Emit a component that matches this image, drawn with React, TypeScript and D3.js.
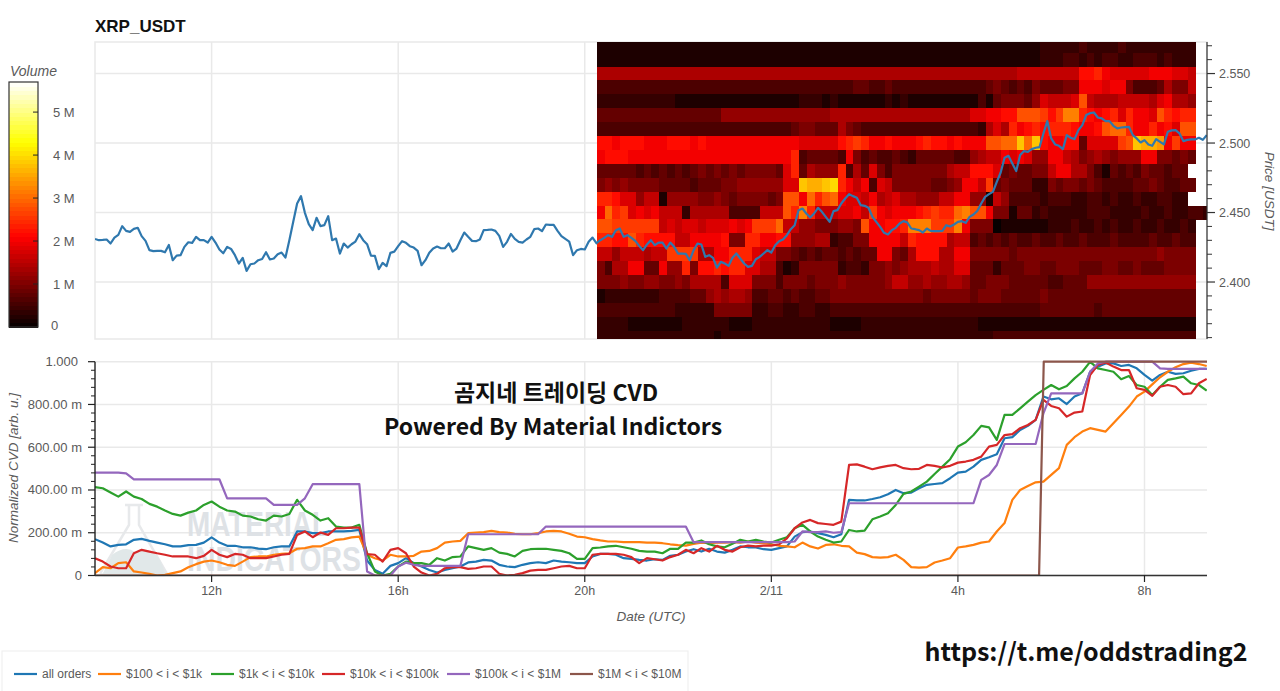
import React from "react";
import * as d3 from "d3";

const priceValues = [
2.4310,2.4301,2.4303,2.4306,2.4277,2.4320,2.4339,2.4402,2.4368,2.4361,2.4382,2.4390,2.4330,2.4296,2.4229,2.4222,2.4224,2.4224,2.4214,2.4267,
2.4157,2.4190,2.4193,2.4253,2.4286,2.4282,2.4325,2.4301,2.4301,2.4284,2.4325,2.4284,2.4234,2.4207,2.4253,2.4238,2.4193,2.4133,2.4174,2.4080,
2.4128,2.4133,2.4157,2.4166,2.4214,2.4162,2.4169,2.4200,2.4212,2.4176,2.4301,2.4433,2.4565,2.4618,2.4498,2.4416,2.4373,2.4462,2.4402,2.4409,
2.4474,2.4301,2.4313,2.4205,2.4277,2.4248,2.4272,2.4291,2.4344,2.4301,2.4272,2.4190,2.4188,2.4092,2.4138,2.4114,2.4210,2.4219,2.4258,2.4294,
2.4282,2.4258,2.4248,2.4224,2.4121,2.4157,2.4210,2.4241,2.4255,2.4243,2.4243,2.4277,2.4219,2.4241,2.4301,2.4356,2.4325,2.4296,2.4294,2.4306,
2.4373,2.4375,2.4378,2.4368,2.4332,2.4253,2.4289,2.4346,2.4310,2.4289,2.4284,2.4306,2.4325,2.4380,2.4385,2.4366,2.4414,2.4411,2.4411,2.4368,
2.4330,2.4310,2.4291,2.4193,2.4229,2.4238,2.4234,2.4289,2.4320,2.4279,2.4301,2.4318,2.4337,2.4325,2.4373,2.4385,2.4325,2.4337,2.4318,2.4296,
2.4260,2.4229,2.4270,2.4301,2.4265,2.4284,2.4284,2.4241,2.4284,2.4253,2.4205,2.4205,2.4203,2.4157,2.4229,2.4277,2.4270,2.4181,2.4193,2.4174,
2.4104,2.4145,2.4133,2.4116,2.4174,2.4205,2.4169,2.4133,2.4109,2.4116,2.4164,2.4181,2.4205,2.4229,2.4212,2.4265,2.4294,2.4306,2.4337,2.4380,
2.4409,2.4517,2.4529,2.4493,2.4464,2.4493,2.4534,2.4505,2.4469,2.4433,2.4510,2.4517,2.4565,2.4601,2.4632,2.4618,2.4606,2.4553,2.4548,2.4534,
2.4469,2.4433,2.4397,2.4354,2.4342,2.4373,2.4390,2.4421,2.4438,2.4428,2.4385,2.4380,2.4373,2.4356,2.4385,2.4368,2.4366,2.4366,2.4368,2.4409,
2.4399,2.4414,2.4433,2.4438,2.4426,2.4469,2.4486,2.4512,2.4565,2.4613,2.4632,2.4649,2.4721,2.4788,2.4894,2.4908,2.4853,2.4798,2.4913,2.4942,
2.4937,2.4956,2.4966,2.4971,2.5069,2.5158,2.5033,2.4990,2.4980,2.4956,2.5057,2.5038,2.5028,2.5093,2.5129,2.5201,2.5215,2.5220,2.5184,2.5177,
2.5158,2.5158,2.5124,2.5105,2.5112,2.5115,2.5117,2.5057,2.5033,2.5004,2.5021,2.4990,2.4980,2.5028,2.5009,2.4990,2.5081,2.5091,2.5093,2.5069,
2.5014,2.5023,2.5026,2.5026,2.5038,2.5023,2.5057];

// Volume levels per 10-minute column, one row per price bin, base-36 digits in 0.2 M units.
const heatPrices = [2.57,2.56,2.55,2.54,2.53,2.52,2.51,2.50,2.49,2.48,2.47,2.46,2.45,2.44,2.43,2.42,2.41,2.40,2.39,2.38,2.37,2.36];
const heatRows = [
"1111111111 1111111111 1111111111 1111111111 1111111111 1111111222 2232222322 2222222",
"1111111111 1111111111 1111111111 1111111111 1111111111 1111111222 3323233223 3323222",
"7777777777 7777777777 7777777777 7777777777 7777777777 7777888888 88bbca9999 9aaa998",
"3333333333 3333333333 3333333333 3334433433 3333333333 4543435444 55aaa9aa53 3347558",
"2222222222 1111111111 1111112221 2111111212 1111111113 1455546988 89e8777888 879a776",
"4444444444 4444446666 6666666666 7777777777 7777777799 aabbeeedbd ggcbabc9ca a9ecbcc",
"3333333333 3333333333 3333345544 4754333333 3333333332 797cabcbcc cbaabeffca acab9ee",
"bbabbbaaab bbabaaaaaa aaaaaa9999 9bcdcaabaa abcbbabaaa eeffjfjbaa bb49999dej iihadaa",
"abbbaaaaaa aaaaaaaaaa aaaaac3444 43a5343343 2444443367 88a9a966aa 8756765666 aa55454",
"4444434343 4345454545 55549c4766 6c37495355 555557 88bb b9454455 8aa77531434 3 5443 44",
"5656555544 4434445566 66669 9jiij kca8a39855 5554456aa8 d454442254 5545433334 4543344",
"ccb9968816 6665565455 5545eeafce fa99 8a7 89 7766688aa6 6186333323 3322332322 3223322",
"af cd9a9a88 8277777333 388 8ecg c888 99a8da9aaab cdccfgeea5 5144232222 2333222232 2322332",
"eedddddd89 8998999a9a ddd f886655 5665eaabbc gggdddga55 5011111122 2322323223 2232232",
"ccbbecbbbb 88aaaab55c caabb66677 2335 5aaaa8 cbbbb78834 3434334334 3343334333 3433433",
"886888788d ddd77aacccа 988 554343 4 43434 4aa54 7bbb77aa55 5554555555 5555555555 5565555",
"5377aa44a6 6c5bbcbcc9 97731255 55 5233255656 7778779944 4244455445 5544455445 4445555",
"5556556655 6577773999 5553555455 5655555688 6676677644 5554444433 4446666666 6666666",
"1222222233 3344676776 3344343344 5555555555 5545555545 5544444544 4444444444 4444444",
"3333333333 2222255555 2233223322 3333333333 3333333333 3333333444 4444344444 4444444",
"2222111111 1222222111 2222222222 1111222222 2222222221 1111111111 1111111111 1111111",
"2222222222 2222212222 2222222222 2222222222 2222222222 2333333333 3333333333 3333333",
];

const blueValues = [170,154,136,143,146,167,171,162,154,146,136,136,142,143,154,178,154,139,139,132,132,126,123,132,136,136,206,206,198,198,206,206,206,209,213,70,26,8,45,58,
81,58,42,26,14,26,34,42,61,65,73,70,50,42,39,50,58,62,58,70,65,62,58,58,89,101,101,97,81,78,73,70,76,73,92,97,112,123,112,125,112,107,120,136,132,131,123,120,128,136,182,203,206,198,
190,179,193,354,351,351,358,366,380,400,385,388,408,424,428,432,455,481,486,509,541,553,567,642,647,681,700,728,837,824,829,802,837,852,953,977,992,992,980,985,969,938,911,938,953,943,946,958,966,966];
const orangeValues = [11,39,34,58,62,19,14,8,0,3,11,19,39,53,65,70,62,50,45,65,86,89,89,97,101,104,125,128,136,136,151,167,170,178,182,97,81,70,97,89,
89,92,112,115,128,154,159,162,198,201,203,209,203,201,195,193,193,198,206,209,206,195,182,179,170,164,159,159,156,156,156,154,154,151,146,142,140,148,154,151,154,154,156,154,159,154,151,146,139,136,132,154,136,126,
143,146,139,136,107,100,86,84,86,97,73,39,37,39,61,70,81,131,136,143,154,159,206,245,354,400,419,436,439,471,502,611,647,673,689,681,673,712,751,790,837,860,894,927,953,974,989,996,989,980];
const greenValues = [413,408,388,369,393,369,358,335,322,304,288,280,294,304,330,346,322,304,299,280,276,263,257,280,276,288,354,304,284,257,268,229,224,224,237,104,19,0,8,42,
65,58,58,50,81,70,86,89,136,128,120,128,107,101,89,115,123,125,125,120,115,104,78,78,128,131,136,139,132,125,115,112,112,104,125,125,154,154,164,146,136,132,148,167,159,167,159,154,167,179,221,237,206,182,
167,154,159,213,206,210,263,276,291,330,382,393,416,439,475,509,544,603,623,657,700,693,634,751,751,782,813,844,868,891,871,886,922,953,999,969,961,953,918,933,891,883,844,883,915,922,930,899,891,865];
const redValues = [81,65,42,34,34,104,120,112,104,97,89,89,89,81,92,120,97,86,101,97,81,81,81,89,97,101,190,206,179,201,190,221,221,224,224,100,97,65,120,128,
104,42,14,0,8,34,39,39,31,34,42,42,8,0,3,11,23,26,26,34,42,45,34,34,97,101,101,101,97,86,58,81,76,70,86,97,120,104,128,112,139,120,112,132,140,136,140,140,146,174,221,248,260,245,
241,237,252,517,520,509,497,506,513,517,502,497,499,517,513,505,513,528,533,541,556,603,611,657,661,689,704,728,821,793,782,743,762,767,938,985,996,977,961,961,876,868,840,883,891,883,848,852,899,919];
const purpleValues = [481,481,481,481,478,450,450,450,450,450,450,450,450,450,450,450,450,361,361,361,361,361,361,330,330,330,330,361,427,427,427,427,427,427,427,19,0,0,0,42,
60,50,45,45,45,45,45,45,193,193,193,193,193,193,193,193,193,193,229,229,229,229,229,229,229,229,229,229,229,229,229,229,229,229,229,229,229,156,156,156,156,156,156,156,156,156,156,156,156,156,159,206,203,203,
206,200,203,338,338,338,338,338,338,338,338,338,338,338,338,338,338,338,338,338,447,470,517,615,615,615,615,615,759,852,852,852,852,852,953,992,1000,1000,1000,1000,1000,1000,1000,969,966,966,966,966,966,966];
const brownHours = [9.5, 29.74, 29.84, 33.34];
const brownValues = [0, 0, 1000, 1000];

const seriesNames = ["all orders", "$100 < i < $1k", "$1k < i < $10k", "$10k < i < $100k", "$100k < i < $1M", "$1M < i < $10M"];
const seriesColors = ["#1f77b4", "#ff7f0e", "#2ca02c", "#d62728", "#9467bd", "#8c564b"];
const legendLineX = [14, 98, 211, 322, 447, 570];

const timeTicks: [number, string][] = [[12, "12h"], [16, "16h"], [20, "20h"], [24, "2/11"], [28, "4h"], [32, "8h"]];
const priceMajor = [2.4, 2.45, 2.5, 2.55];
const priceMinor = [2.36,2.37,2.38,2.39,2.41,2.42,2.43,2.44,2.46,2.47,2.48,2.49,2.51,2.52,2.53,2.54,2.56,2.57];
const cvdMajor: [number, string][] = [[0, "0"], [200, "200.00 m"], [400, "400.00 m"], [600, "600.00 m"], [800, "800.00 m"], [1000, "1.000"]];
const cvdMinor = [40,80,120,160,240,280,320,360,440,480,520,560,640,680,720,760,840,880,920,960];
const volumeTicks: [number, string][] = [[0, "0"], [1, "1 M"], [2, "2 M"], [3, "3 M"], [4, "4 M"], [5, "5 M"]];

const x = d3.scaleLinear().domain([9.5, 33.34]).range([95, 1207]);
const yP = d3.scaleLinear().domain([2.359, 2.5727]).range([339, 42]);
const yC = d3.scaleLinear().domain([0, 1000]).range([575.5, 361.7]);
const yV = d3.scaleLinear().domain([0, 5.7]).range([327, 82]);
const hot = d3.scaleLinear<string>().domain([0, 2.1, 4.3, 5.7]).range(["#050000", "#ff0000", "#ffff00", "#ffffff"]).clamp(true);

const HEAT_START = 20.26;
const STEP_10M = 1 / 6;
const STEP_5M = 1 / 12;

const priceLine = d3.line<number>().x((_, i) => x(9.5 + i * STEP_5M)).y((d) => yP(d));
const cvdLine = d3.line<number>().x((_, i) => x(9.5 + i * STEP_10M)).y((d) => yC(d));
const brownLine = d3.line<number>().x((_, i) => x(brownHours[i])).y((d) => yC(d));

const grid = "#e9e9e9";
const sans = "'Liberation Sans', Arial, sans-serif";
const label = "#5a5a5a";
const heatCells = heatRows.map((r) => r.replace(/[^0-9a-z]/g, ""));
const volumeBands = d3.range(0, 5.7, 0.1);

export default function App() {
  const cvdSeries = [blueValues, orangeValues, greenValues, redValues, purpleValues];
  return (
    <svg width={1280} height={691} style={{ position: "fixed", left: 0, top: 0, background: "#fff" }} fontFamily={sans}>
      <defs>
        <clipPath id="topClip"><rect x={95} y={42} width={1112} height={297} /></clipPath>
        <clipPath id="botClip"><rect x={95} y={360} width={1112} height={216} /></clipPath>
      </defs>

      <text x={95} y={32} fontSize={17} fontWeight="bold" fill="#111">XRP_USDT</text>

      {/* top plot */}
      <rect x={95} y={42} width={1112} height={297} fill="none" stroke={grid} strokeWidth={1.5} />
      {priceMajor.map((p) => <line key={p} x1={95} x2={1207} y1={yP(p)} y2={yP(p)} stroke={grid} strokeWidth={1.5} />)}
      {timeTicks.map(([t]) => <line key={t} x1={x(t)} x2={x(t)} y1={42} y2={339} stroke={grid} strokeWidth={1.5} />)}
      <g clipPath="url(#topClip)" shapeRendering="crispEdges">
        {heatCells.map((row, r) =>
          Array.from(row).map((c, i) => (
            <rect key={r + "-" + i}
              x={x(HEAT_START + i * STEP_10M)} width={x(STEP_10M) - x(0) + 0.4}
              y={yP(heatPrices[r] + 0.005)} height={yP(0) - yP(0.01) + 0.4}
              fill={hot(parseInt(c, 36) * 0.2)} />
          ))
        )}
      </g>
      <path d={priceLine(priceValues) || ""} fill="none" stroke="#2f78ae" strokeWidth={2.2} strokeLinejoin="round" clipPath="url(#topClip)" />

      {/* price axis */}
      <line x1={1207} x2={1207} y1={42} y2={339} stroke="#333" strokeWidth={1.2} />
      {priceMajor.map((p) => (
        <g key={p}>
          <line x1={1207} x2={1215} y1={yP(p)} y2={yP(p)} stroke="#333" strokeWidth={1.2} />
          <text x={1219} y={yP(p) + 4.5} fontSize={12.5} fill={label}>{d3.format(".3f")(p)}</text>
        </g>
      ))}
      {priceMinor.map((p) => <line key={p} x1={1207} x2={1212} y1={yP(p)} y2={yP(p)} stroke="#333" />)}
      <text transform="translate(1265,191) rotate(90)" textAnchor="middle" fontSize={13.5} fontStyle="italic" fill={label}>Price [USDT]</text>

      {/* colour bar */}
      <text x={10} y={76} fontSize={14} fontStyle="italic" fill={label}>Volume</text>
      <g shapeRendering="crispEdges">
        {volumeBands.map((v) => (
          <rect key={v} x={9} width={29} y={yV(v + 0.1)} height={yV(0) - yV(0.1) + 0.5} fill={hot(v + 0.05)} />
        ))}
      </g>
      <rect x={9} y={82} width={29} height={245} fill="none" stroke="#333" strokeWidth={1.2} />
      {volumeTicks.map(([v, s]) => (
        <g key={v}>
          {v > 0 && <line x1={33} x2={38} y1={yV(v)} y2={yV(v)} stroke="#222" />}
          <text x={v === 0 ? 51 : 53} y={yV(v) + (v === 0 ? 3 : 4.5)} fontSize={13} fill={label}>{s}</text>
        </g>
      ))}

      {/* bottom plot */}
      {cvdMajor.map(([v]) => <line key={v} x1={95} x2={1207} y1={yC(v)} y2={yC(v)} stroke={grid} strokeWidth={1.5} />)}
      {timeTicks.map(([t]) => <line key={t} x1={x(t)} x2={x(t)} y1={362} y2={575} stroke={grid} strokeWidth={1.5} />)}

      {/* watermark */}
      <g opacity={0.95}>
        <path d="M125 505 L143 505 M129 505 L129 525 L101 572 Q100 575 104 575 L164 575 Q168 575 166 572 L139 525 L139 505" fill="none" stroke="#e6e8ea" strokeWidth={2.5} />
        <path d="M112 555 Q125 545 135 552 Q150 545 160 560 L166 575 L102 575 Z" fill="#e0e7e8" />
        <text x={187} y={536} fontSize={35} fontWeight="bold" fill="#dde1e5" textLength={142} lengthAdjust="spacingAndGlyphs">MATERIAL</text>
        <text x={187} y={571} fontSize={35} fontWeight="bold" fill="#dde1e5" textLength={174} lengthAdjust="spacingAndGlyphs">INDICATORS</text>
      </g>

      <g clipPath="url(#botClip)" fill="none" strokeWidth={2.2} strokeLinejoin="round">
        {cvdSeries.map((s, i) => <path key={i} d={cvdLine(s) || ""} stroke={seriesColors[i]} />)}
        <path d={brownLine(brownValues) || ""} stroke={seriesColors[5]} />
      </g>

      {/* bottom axes */}
      <line x1={95} x2={95} y1={361.7} y2={575.5} stroke="#222" strokeWidth={1.4} />
      <line x1={95} x2={1207} y1={575.5} y2={575.5} stroke="#333" strokeWidth={1.4} />
      {cvdMajor.map(([v, s]) => (
        <g key={v}>
          <line x1={88} x2={95} y1={yC(v)} y2={yC(v)} stroke="#222" strokeWidth={1.2} />
          <text x={v === 1000 ? 78 : 82} y={yC(v) + 4.5} textAnchor="end" fontSize={13} fill={label}>{s}</text>
        </g>
      ))}
      {cvdMinor.map((v) => <line key={v} x1={91} x2={95} y1={yC(v)} y2={yC(v)} stroke="#222" />)}
      {timeTicks.map(([t, s]) => (
        <g key={t}>
          <line x1={x(t)} x2={x(t)} y1={575} y2={582} stroke="#222" strokeWidth={1.2} />
          <text x={x(t)} y={595} textAnchor="middle" fontSize={12.5} fill={label}>{s}</text>
        </g>
      ))}
      <text x={651} y={621} textAnchor="middle" fontSize={13.5} fontStyle="italic" fill={label}>Date (UTC)</text>
      <text transform="translate(18,468) rotate(-90)" textAnchor="middle" fontSize={13.5} fontStyle="italic" fill={label}>Normalized CVD [arb. u.]</text>

      {/* overlay text */}
      <text x={556} y={401} textAnchor="middle" fontSize={23} fontWeight="bold" fill="#111" fontFamily="'Noto Sans CJK KR','Noto Sans',sans-serif">곰지네 트레이딩 CVD</text>
      <text x={553} y={435} textAnchor="middle" fontSize={23} fontWeight="bold" fill="#111" fontFamily="'Noto Sans CJK KR','Noto Sans',sans-serif">Powered By Material Indictors</text>
      <text x={1086} y={661} textAnchor="middle" fontSize={25} fontWeight="bold" fill="#111" fontFamily="'Noto Sans CJK KR','Noto Sans',sans-serif">https://t.me/oddstrading2</text>

      {/* legend */}
      <rect x={2} y={651} width={686} height={42} fill="#fff" stroke="#f0f0f0" strokeWidth={1.2} />
      {seriesNames.map((n, i) => (
        <g key={n}>
          <line x1={legendLineX[i]} x2={legendLineX[i] + 23} y1={674} y2={674} stroke={seriesColors[i]} strokeWidth={2.2} />
          <text x={legendLineX[i] + 28} y={678} fontSize={12} fill={label}>{n}</text>
        </g>
      ))}
    </svg>
  );
}
